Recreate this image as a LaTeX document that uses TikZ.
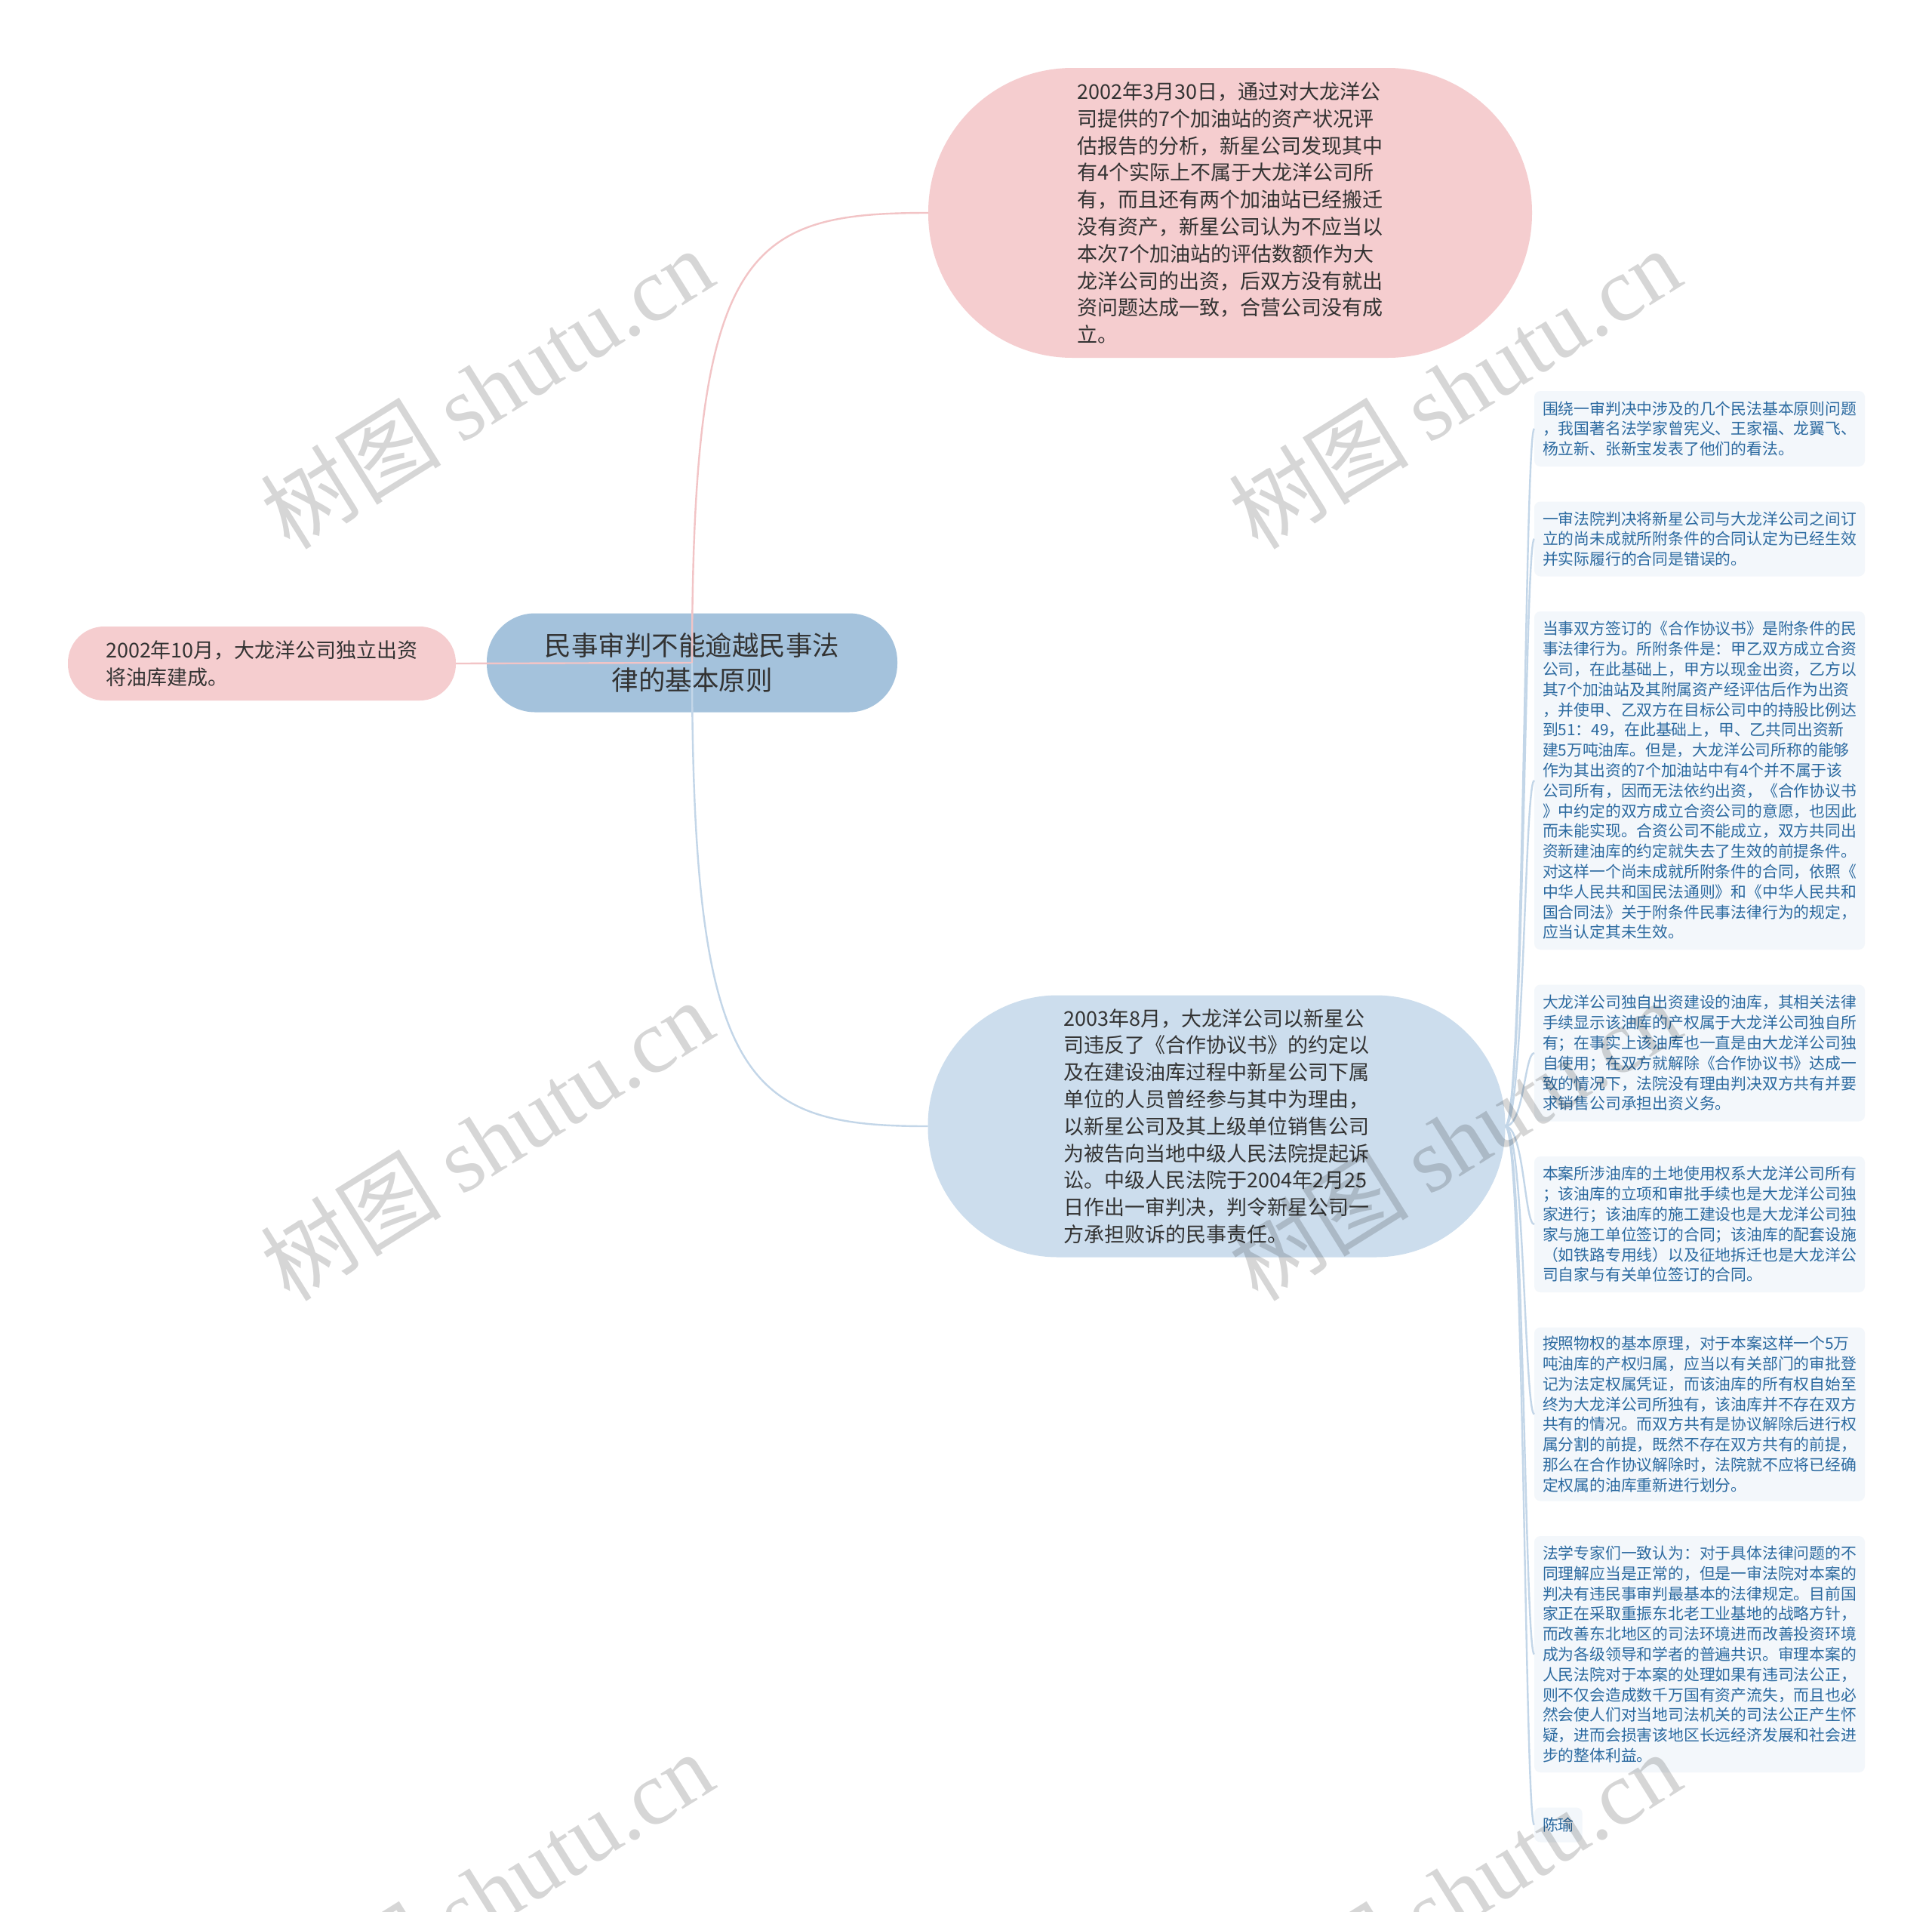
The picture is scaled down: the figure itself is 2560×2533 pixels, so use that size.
\documentclass[tikz,border=0pt]{standalone}
\usepackage{fontspec}
\setmainfont{Noto Sans CJK SC}
\newfontfamily\wmfont{Liberation Serif}
\usepackage{xcolor}
\usetikzlibrary{positioning}
\definecolor{rootblue}{HTML}{A4C2DC}
\definecolor{lightblue}{HTML}{CCDDED}
\definecolor{pinkfill}{HTML}{F5CDCF}
\definecolor{pinkedge}{HTML}{F2C4C6}
\definecolor{blueedge}{HTML}{C3D6E8}
\definecolor{leaffill}{HTML}{F3F7FB}
\definecolor{leaftext}{HTML}{2C6AA0}
\definecolor{nodetext}{HTML}{333333}

\begin{document}
\begin{tikzpicture}[
	x=1pt, y=-1pt,
	every node/.style={inner sep=0pt, outer sep=0pt},
	bigfont/.style={font=\fontsize{27}{35.8}\selectfont},
	rootbox/.style={fill=rootblue, rounded corners=64pt, minimum width=544pt, minimum height=131pt, align=center, text=nodetext, font=\fontsize{35.5}{46}\selectfont},
	pinkbox/.style={fill=pinkfill, align=left, text=nodetext, bigfont},
	bluebox/.style={fill=lightblue, align=left, text=nodetext, bigfont},
	leaf/.style={fill=leaffill, rounded corners=8pt, align=left, inner xsep=11pt, inner ysep=6pt, text=leaftext, font=\fontsize{20.8}{26.8}\selectfont},
	wideleaf/.style={leaf, text width=416pt},
	pinkline/.style={draw=pinkedge, line width=2.4pt},
	blueline/.style={draw=blueedge, line width=2.4pt},
	wmark/.style={rotate=32, text=black, text opacity=0.16, font=\fontsize{120}{120}\selectfont}
	]
	
	\fill[white] (0,0) rectangle (2560,2533);
	\useasboundingbox (0,0) rectangle (2560,2533);
	
	\node[rootbox] (root) at (917,878) {民事审判不能逾越民事法\\律的基本原则};
	
	\node[pinkbox, rounded corners=48pt, minimum width=514pt, minimum height=98pt] (early) at (347,879) {2002年10月，大龙洋公司独立出资\\将油库建成。};
	
	\node[pinkbox, rounded corners=191pt, minimum width=800pt, minimum height=384pt] (talks) at (1630,282) {2002年3月30日，通过对大龙洋公\\司提供的7个加油站的资产状况评\\估报告的分析，新星公司发现其中\\有4个实际上不属于大龙洋公司所\\有，而且还有两个加油站已经搬迁\\没有资产，新星公司认为不应当以\\本次7个加油站的评估数额作为大\\龙洋公司的出资，后双方没有就出\\资问题达成一致，合营公司没有成\\立。};
	
	\node[bluebox, rounded corners=172pt, minimum width=765pt, minimum height=347pt] (suit) at (1612,1492) {2003年8月，大龙洋公司以新星公\\司违反了《合作协议书》的约定以\\及在建设油库过程中新星公司下属\\单位的人员曾经参与其中为理由，\\以新星公司及其上级单位销售公司\\为被告向当地中级人民法院提起诉\\讼。中级人民法院于2004年2月25\\日作出一审判决，判令新星公司一\\方承担败诉的民事责任。};
	
	\node[wideleaf, anchor=west, minimum height=100pt] (v1) at (2033,568) {围绕一审判决中涉及的几个民法基本原则问题\\，我国著名法学家曾宪义、王家福、龙翼飞、\\杨立新、张新宝发表了他们的看法。};
	\node[wideleaf, below=46.5pt of v1.south west, anchor=north west, minimum height=99pt] (v2) {一审法院判决将新星公司与大龙洋公司之间订\\立的尚未成就所附条件的合同认定为已经生效\\并实际履行的合同是错误的。};
	\node[wideleaf, below=46.5pt of v2.south west, anchor=north west, minimum height=448pt] (v3) {当事双方签订的《合作协议书》是附条件的民\\事法律行为。所附条件是：甲乙双方成立合资\\公司，在此基础上，甲方以现金出资，乙方以\\其7个加油站及其附属资产经评估后作为出资\\，并使甲、乙双方在目标公司中的持股比例达\\到51：49，在此基础上，甲、乙共同出资新\\建5万吨油库。但是，大龙洋公司所称的能够\\作为其出资的7个加油站中有4个并不属于该\\公司所有，因而无法依约出资，《合作协议书\\》中约定的双方成立合资公司的意愿，也因此\\而未能实现。合资公司不能成立，双方共同出\\资新建油库的约定就失去了生效的前提条件。\\对这样一个尚未成就所附条件的合同，依照《\\中华人民共和国民法通则》和《中华人民共和\\国合同法》关于附条件民事法律行为的规定，\\应当认定其未生效。};
	\node[wideleaf, below=46.5pt of v3.south west, anchor=north west, minimum height=181pt] (v4) {大龙洋公司独自出资建设的油库，其相关法律\\手续显示该油库的产权属于大龙洋公司独自所\\有；在事实上该油库也一直是由大龙洋公司独\\自使用；在双方就解除《合作协议书》达成一\\致的情况下，法院没有理由判决双方共有并要\\求销售公司承担出资义务。};
	\node[wideleaf, below=46.5pt of v4.south west, anchor=north west, minimum height=180pt] (v5) {本案所涉油库的土地使用权系大龙洋公司所有\\；该油库的立项和审批手续也是大龙洋公司独\\家进行；该油库的施工建设也是大龙洋公司独\\家与施工单位签订的合同；该油库的配套设施\\（如铁路专用线）以及征地拆迁也是大龙洋公\\司自家与有关单位签订的合同。};
	\node[wideleaf, below=46.5pt of v5.south west, anchor=north west, minimum height=230pt] (v6) {按照物权的基本原理，对于本案这样一个5万\\吨油库的产权归属，应当以有关部门的审批登\\记为法定权属凭证，而该油库的所有权自始至\\终为大龙洋公司所独有，该油库并不存在双方\\共有的情况。而双方共有是协议解除后进行权\\属分割的前提，既然不存在双方共有的前提，\\那么在合作协议解除时，法院就不应将已经确\\定权属的油库重新进行划分。};
	\node[wideleaf, below=46.5pt of v6.south west, anchor=north west, minimum height=313pt] (v7) {法学专家们一致认为：对于具体法律问题的不\\同理解应当是正常的，但是一审法院对本案的\\判决有违民事审判最基本的法律规定。目前国\\家正在采取重振东北老工业基地的战略方针，\\而改善东北地区的司法环境进而改善投资环境\\成为各级领导和学者的普遍共识。审理本案的\\人民法院对于本案的处理如果有违司法公正，\\则不仅会造成数千万国有资产流失，而且也必\\然会使人们对当地司法机关的司法公正产生怀\\疑，进而会损害该地区长远经济发展和社会进\\步的整体利益。};
	\node[leaf, below=46.5pt of v7.south west, anchor=north west, minimum height=46pt] (v8) {陈瑜};
	
	\draw[pinkline] (early.east) -- (root.center);
	\draw[pinkline] (root.center) .. controls +(0,-550) and +(-240,0) .. (talks.west);
	\draw[blueline] (root.center) .. controls +(0,560) and +(-240,0) .. (suit.west);
	\foreach \n in {v1,v2,v3,v4,v5,v6,v7,v8}
		\draw[blueline] (suit.east) .. controls +(25,0) and +(-13,0) .. (\n.west);
	
	\foreach \wx/\wy [count=\i] in {645/514, 1927/514, 645/1510, 1927/1510, 645/2506, 1927/2506}
		\node[wmark] (wm\i) at (\wx,\wy) {树图 {\wmfont shutu.cn}};
	
\end{tikzpicture}
\end{document}
